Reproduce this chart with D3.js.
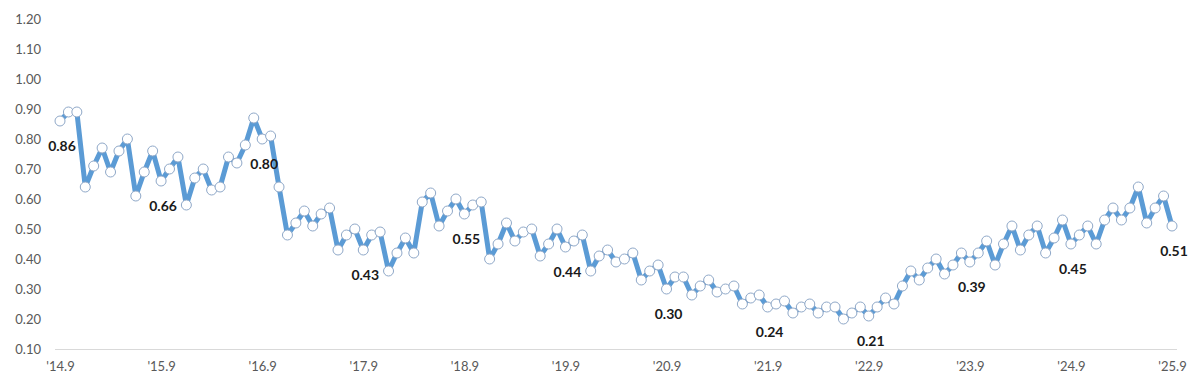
<!DOCTYPE html>
<html>
<head>
<meta charset="utf-8">
<script src="https://cdn.jsdelivr.net/npm/d3@7"></script>
<style>
  body { margin: 0; background: #fff; }
  svg { display: block; font-family: Lato, "Noto Sans", sans-serif; }
</style>
</head>
<body>
<svg id="canvas" width="1200" height="390"></svg>
<script>
// monthly values, '14.9 .. '25.9
let values = [
  0.86, 0.89, 0.89, 0.64, 0.71, 0.77, 0.69, 0.76, 0.80, 0.61, 0.69, 0.76,
  0.66, 0.70, 0.74, 0.58, 0.67, 0.70, 0.63, 0.64, 0.74, 0.72, 0.78, 0.87,
  0.80, 0.81, 0.64, 0.48, 0.52, 0.56, 0.51, 0.55, 0.57, 0.43, 0.48, 0.50,
  0.43, 0.48, 0.49, 0.36, 0.42, 0.47, 0.42, 0.59, 0.62, 0.51, 0.56, 0.60,
  0.55, 0.58, 0.59, 0.40, 0.45, 0.52, 0.46, 0.49, 0.50, 0.41, 0.45, 0.50,
  0.44, 0.46, 0.48, 0.36, 0.41, 0.43, 0.39, 0.40, 0.42, 0.33, 0.36, 0.38,
  0.30, 0.34, 0.34, 0.28, 0.31, 0.33, 0.29, 0.30, 0.31, 0.25, 0.27, 0.28,
  0.24, 0.25, 0.26, 0.22, 0.24, 0.25, 0.22, 0.24, 0.24, 0.20, 0.22, 0.24,
  0.21, 0.24, 0.27, 0.25, 0.31, 0.36, 0.33, 0.37, 0.40, 0.35, 0.38, 0.42,
  0.39, 0.42, 0.46, 0.38, 0.45, 0.51, 0.43, 0.48, 0.51, 0.42, 0.47, 0.53,
  0.45, 0.48, 0.51, 0.45, 0.53, 0.57, 0.53, 0.57, 0.64, 0.52, 0.57, 0.61,
  0.51
]
let xTickLabels = ["'14.9", "'15.9", "'16.9", "'17.9", "'18.9", "'19.9",
                   "'20.9", "'21.9", "'22.9", "'23.9", "'24.9", "'25.9"]
let yTicks = [0.10, 0.20, 0.30, 0.40, 0.50, 0.60, 0.70, 0.80, 0.90, 1.00, 1.10, 1.20]
// points that carry a value label (every September)
let labelIdx = [0, 12, 24, 36, 48, 60, 72, 84, 96, 108, 120, 132]

let canvas = d3.select('#canvas')

let x = d3.scaleLinear().domain([0, values.length - 1]).range([60, 1172])
let y = d3.scaleLinear().domain([0.10, 1.20]).range([349, 19])

// y axis labels (no line)
canvas.append('g')
  .attr('transform', 'translate(41,0)')
  .call(d3.axisLeft(y).tickValues(yTicks).tickFormat(d3.format('.2f')).tickSize(0).tickPadding(0))
  .call(g => g.select('.domain').remove())
  .selectAll('text')
    .attr('fill', '#595959')
    .style('font-size', '13px')
    .style('font-family', 'Lato, "Noto Sans", sans-serif')

// x axis
let xAxis = canvas.append('g')
  .attr('transform', 'translate(0,349)')
  .call(d3.axisBottom(x)
    .tickValues(labelIdx)
    .tickFormat((d, i) => xTickLabels[i])
    .tickSize(0).tickPadding(13))
xAxis.select('.domain')
  .attr('d', 'M55,0.5H1177')
  .attr('stroke', '#d9d9d9')
xAxis.selectAll('text')
  .attr('fill', '#595959')
  .style('font-size', '13px')
  .style('font-family', 'Lato, "Noto Sans", sans-serif')

let line = d3.line()
  .x((d, i) => x(i))
  .y(d => y(d))

canvas.append('path')
  .datum(values)
  .attr('d', line)
  .attr('fill', 'none')
  .attr('stroke', '#5b9bd5')
  .attr('stroke-width', 5)
  .attr('stroke-linejoin', 'round')

canvas.selectAll('circle')
  .data(values)
  .enter()
    .append('circle')
    .attr('cx', (d, i) => x(i))
    .attr('cy', d => y(d))
    .attr('r', 5)
    .attr('fill', '#fff')
    .attr('stroke', '#8fa8c8')
    .attr('stroke-width', 1)

canvas.selectAll('.vlabel')
  .data(labelIdx)
  .enter()
    .append('text')
    .attr('class', 'vlabel')
    .attr('x', i => x(i) + 2)
    .attr('y', i => y(values[i]) + 30)
    .attr('text-anchor', 'middle')
    .attr('fill', '#1a1a1a')
    .style('font-size', '14px')
    .style('font-weight', 'bold')
    .text(i => values[i].toFixed(2))
</script>
</body>
</html>
